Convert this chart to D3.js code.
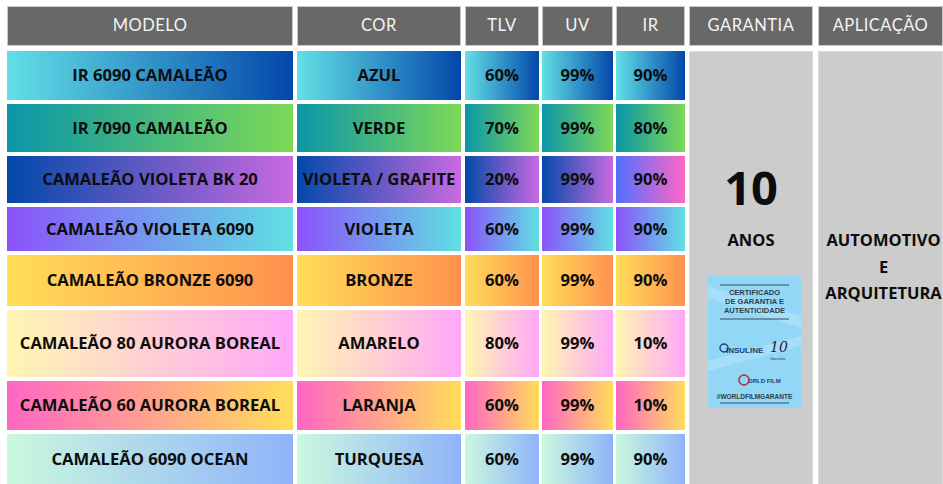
<!DOCTYPE html>
<html>
<head>
<meta charset="utf-8">
<script src="https://cdn.jsdelivr.net/npm/d3@7"></script>
<style>
  body { margin: 0; background: #fff; }
  svg { display: block; }
</style>
</head>
<body>
<div id="chart"></div>
<script>
// table data
var headers = ["MODELO", "COR", "TLV", "UV", "IR", "GARANTIA", "APLICAÇÃO"];
var modelos = ["IR 6090 CAMALEÃO", "IR 7090 CAMALEÃO", "CAMALEÃO VIOLETA BK 20", "CAMALEÃO VIOLETA 6090",
               "CAMALEÃO BRONZE 6090", "CAMALEÃO 80 AURORA BOREAL", "CAMALEÃO 60 AURORA BOREAL", "CAMALEÃO 6090 OCEAN"];
var cores = ["AZUL", "VERDE", "VIOLETA / GRAFITE", "VIOLETA", "BRONZE", "AMARELO", "LARANJA", "TURQUESA"];
var tlv = [60, 70, 20, 60, 60, 80, 60, 60];
var uv  = [99, 99, 99, 99, 99, 99, 99, 99];
var ir  = [90, 80, 90, 90, 90, 10, 10, 90];
var garantiaAnos = 10;
var aplicacao = ["AUTOMOTIVO", "E", "ARQUITETURA"];

// gradient colours per row (start -> end)
var gradStart = ["#62e0e6", "#0a96a8", "#0349aa", "#8b52fb", "#ffdd59", "#fff6b2", "#ff66c4", "#c9f9df"];
var gradEnd   = ["#0347aa", "#7ed957", "#c86ae0", "#5fe0e3", "#ff914d", "#ffa8f8", "#ffde59", "#90b3fa"];
var irStart   = ["#62e0e6", "#0a96a8", "#5170ff", "#8b52fb", "#ffdd59", "#fff6b2", "#ff66c4", "#c9f9df"];
var irEnd     = ["#0347aa", "#7ed957", "#ff66c4", "#5fe0e3", "#ff914d", "#ffa8f8", "#ffde59", "#90b3fa"];

// layout
var width = 943, height = 484;
var colEdges = [[7, 293], [297, 461], [465, 539], [542, 613], [616, 685], [689, 813], [818, 943]];
var rowH = [49, 48, 47, 44, 51, 67, 49, 51];
var gap = 4;
var headTop = 6, headBottom = 46, bodyTop = 51;

var rowY = [];
var acc = bodyTop;
for (var i = 0; i < rowH.length; i++) { rowY.push(acc); acc += rowH[i] + gap; }

var svg = d3.select("#chart").append("svg")
    .attr("width", width)
    .attr("height", height);

var defs = svg.append("defs");
function grad(id, c0, c1) {
    var g = defs.append("linearGradient").attr("id", id)
        .attr("x1", "0%").attr("x2", "100%").attr("y1", "0%").attr("y2", "0%");
    g.append("stop").attr("offset", "0%").attr("stop-color", c0);
    g.append("stop").attr("offset", "100%").attr("stop-color", c1);
}
for (var i = 0; i < modelos.length; i++) {
    grad("g" + i, gradStart[i], gradEnd[i]);
    grad("gi" + i, irStart[i], irEnd[i]);
}

// header
var head = svg.append("g");
head.selectAll("rect").data(headers).enter()
    .append("rect")
    .attr("x", function(d, i){ return colEdges[i][0] + 0.5; })
    .attr("y", headTop + 0.5)
    .attr("width", function(d, i){ return colEdges[i][1] - colEdges[i][0] - 1; })
    .attr("height", headBottom - headTop - 1)
    .style("fill", "#686868")
    .style("stroke", "#c9c9c9")
    .style("stroke-width", 1);
head.selectAll("text").data(headers).enter()
    .append("text")
    .attr("x", function(d, i){ return (colEdges[i][0] + colEdges[i][1]) / 2; })
    .attr("y", 31)
    .style("font-family", "Lato, sans-serif")
    .style("font-weight", 400)
    .style("font-size", "16.5px")
    .style("letter-spacing", "0.5px")
    .style("fill", "#f4f4f4")
    .style("text-anchor", "middle")
    .text(function(d){ return d; });

// body cells
var cellText = [modelos, cores,
    tlv.map(function(v){ return v + "%"; }),
    uv.map(function(v){ return v + "%"; }),
    ir.map(function(v){ return v + "%"; })];

var cells = [];
for (var c = 0; c < 5; c++) {
    for (var r = 0; r < modelos.length; r++) {
        cells.push({ c: c, r: r, text: cellText[c][r] });
    }
}

var body = svg.append("g");
body.selectAll("rect").data(cells).enter()
    .append("rect")
    .attr("x", function(d){ return colEdges[d.c][0]; })
    .attr("y", function(d){ return rowY[d.r]; })
    .attr("width", function(d){ return colEdges[d.c][1] - colEdges[d.c][0]; })
    .attr("height", function(d){ return rowH[d.r]; })
    .style("fill", function(d){ return d.c == 4 ? "url(#gi" + d.r + ")" : "url(#g" + d.r + ")"; });

body.selectAll("text").data(cells).enter()
    .append("text")
    .attr("x", function(d){ return (colEdges[d.c][0] + colEdges[d.c][1]) / 2; })
    .attr("y", function(d){ return rowY[d.r] + rowH[d.r] / 2 + 5.5; })
    .style("font-family", "'Open Sans', sans-serif")
    .style("font-weight", "bold")
    .style("font-size", "16.6px")
    .style("fill", "#0d0d0d")
    .style("text-anchor", "middle")
    .text(function(d){ return d.text; });

// merged garantia / aplicacao cells
var bodyBottom = height + 2;
svg.append("g").selectAll("rect").data([5, 6]).enter()
    .append("rect")
    .attr("x", function(d){ return colEdges[d][0] + 0.5; })
    .attr("y", bodyTop + 0.5)
    .attr("width", function(d){ return colEdges[d][1] - colEdges[d][0] - 1; })
    .attr("height", bodyBottom - bodyTop)
    .style("fill", "#cccccc")
    .style("stroke", "#dadada")
    .style("stroke-width", 1);

var gx = (colEdges[5][0] + colEdges[5][1]) / 2;
svg.append("text")
    .attr("x", gx).attr("y", 205)
    .style("font-family", "'Open Sans', sans-serif")
    .style("font-weight", "bold")
    .style("font-size", "47px")
    .style("fill", "#0d0d0d")
    .style("text-anchor", "middle")
    .text(garantiaAnos);
svg.append("text")
    .attr("x", gx).attr("y", 246)
    .style("font-family", "'Open Sans', sans-serif")
    .style("font-weight", "bold")
    .style("font-size", "16.5px")
    .style("fill", "#0d0d0d")
    .style("text-anchor", "middle")
    .text("ANOS");

// certificate card
var cert = svg.append("g").attr("transform", "translate(708,276)");
cert.append("rect").attr("width", 93).attr("height", 132).style("fill", "#92d8f6");
cert.append("path").attr("d", "M0,10 L93,40 L93,52 L0,22 Z").style("fill", "#b4e5fa").style("opacity", 0.6);
cert.append("path").attr("d", "M0,85 L93,60 L93,70 L0,95 Z").style("fill", "#b4e5fa").style("opacity", 0.6);
cert.append("line").attr("x1", 12).attr("x2", 81).attr("y1", 9).attr("y2", 9).style("stroke", "#3a4a5a").style("stroke-width", 1);
cert.append("line").attr("x1", 12).attr("x2", 81).attr("y1", 43).attr("y2", 43).style("stroke", "#3a4a5a").style("stroke-width", 1);
cert.append("line").attr("x1", 12).attr("x2", 81).attr("y1", 127).attr("y2", 127).style("stroke", "#3a4a5a").style("stroke-width", 1);
var certLines = ["CERTIFICADO", "DE GARANTIA E", "AUTENTICIDADE"];
cert.selectAll("text.c").data(certLines).enter()
    .append("text").attr("class", "c")
    .attr("x", 46.5)
    .attr("y", function(d, i){ return 19 + i * 9; })
    .style("font-family", "'Liberation Sans', sans-serif")
    .style("font-weight", "bold")
    .style("font-size", "7.5px")
    .style("fill", "#2e3e4e")
    .style("text-anchor", "middle")
    .text(function(d){ return d; });
cert.append("circle").attr("cx", 16).attr("cy", 72).attr("r", 4).style("fill", "none").style("stroke", "#1d3f7a").style("stroke-width", 1.5);
cert.append("text").attr("x", 18).attr("y", 77)
    .style("font-family", "'Liberation Sans Narrow', sans-serif").style("font-size", "8px").style("font-weight", "bold")
    .style("fill", "#1d3f7a").text("INSULINE");
cert.append("text").attr("x", 62).attr("y", 76)
    .style("font-family", "'DejaVu Serif', serif").style("font-style", "italic").style("font-size", "14px")
    .style("fill", "#223").text("10");
cert.append("text").attr("x", 62).attr("y", 84)
    .style("font-family", "'Liberation Sans', sans-serif").style("font-size", "4px")
    .style("fill", "#334").text("Garantia");
cert.append("circle").attr("cx", 36).attr("cy", 104).attr("r", 5).style("fill", "none").style("stroke", "#b03030").style("stroke-width", 1.5);
cert.append("text").attr("x", 40).attr("y", 107)
    .style("font-family", "'Liberation Sans', sans-serif").style("font-size", "6px").style("font-weight", "bold")
    .style("fill", "#1d3f7a").text("ORLD FILM");
cert.append("text").attr("x", 46.5).attr("y", 123)
    .style("font-family", "'Liberation Sans', sans-serif").style("font-weight", "bold").style("font-size", "6.5px")
    .style("fill", "#2e3e4e").style("text-anchor", "middle").text("#WORLDFILMGARANTE");

// aplicacao text
var ax = (colEdges[6][0] + colEdges[6][1]) / 2 + 3;
svg.append("g").selectAll("text").data(aplicacao).enter()
    .append("text")
    .attr("x", ax)
    .attr("y", function(d, i){ return 246 + i * 26.5; })
    .style("font-family", "'Open Sans', sans-serif")
    .style("font-weight", "bold")
    .style("font-size", "16.5px")
    .style("fill", "#0d0d0d")
    .style("text-anchor", "middle")
    .text(function(d){ return d; });
</script>
</body>
</html>
